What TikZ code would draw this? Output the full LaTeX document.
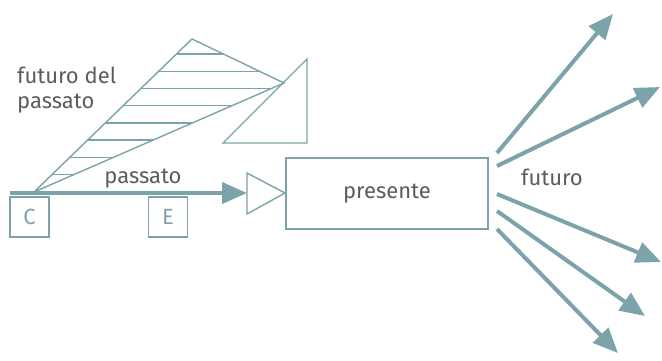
\documentclass[tikz,border=0pt]{standalone}
\usepackage{fontspec}
\setmainfont{Fira Sans}
\usetikzlibrary{arrows.meta}

\definecolor{tealline}{HTML}{7BA3A9}
\definecolor{textgrey}{HTML}{5C5C5C}

\tikzset{
    thin line/.style={draw=tealline, line width=1.4pt},
    letterbox/.style={thin line, minimum width=39pt, minimum height=40pt, inner sep=0pt, text=tealline},
    thick arrow/.style={draw=tealline, line width=4pt, -{Triangle[length=25pt, width=21pt]}}
}

\begin{document}
\begin{tikzpicture}[x=1pt, y=-1pt, font=\fontsize{22}{25}\selectfont, text=textgrey]
    \useasboundingbox (0,0) rectangle (662,360);

    % Future of the past
    \coordinate (apex) at (34,192);
    \coordinate (top) at (192,39);
    \coordinate (tip) at (284,83);
    \begin{scope}
        \clip (apex) -- (top) -- (tip) -- cycle;
        \foreach \k in {0,...,7}
            \draw[thin line] (0,54+17.2*\k) -- (320,54+17.2*\k);
    \end{scope}
    \draw[thin line, line join=miter] (apex) -- (top) -- (tip) -- cycle;
    \draw[thin line, line join=miter] (223,143) -- (307,59) -- (307,143) -- cycle;
    \node[anchor=west, align=left, inner sep=0pt] (fdp) at (17,90) {futuro del\\passato};

    % Past
    \node[letterbox] (c) at (29.5,217) {C};
    \node[letterbox] (e) at (168,217) {E};
    \coordinate (start) at (10,193);
    \coordinate (gate) at (247,193);
    \draw[thick arrow] (start) -- (gate);
    \node[anchor=base] (pas) at (143,183) {passato};
    \draw[thin line, line join=miter] (gate) -- (247,173) -- (285,193) -- (247,214) -- cycle;

    % Present
    \node[thin line, minimum width=202pt, minimum height=71pt] (pres) at (387,193.5) {presente};

    % Future
    \node[anchor=base] (fut) at (552,185) {futuro};
    \foreach \i/\sy/\ex/\ey in {1/153/613/14, 2/166/660/87, 3/194/661/262, 4/211/645/316, 5/229/618/353} {
        \coordinate (s\i) at (497,\sy);
        \coordinate (t\i) at (\ex,\ey);
        \draw[thick arrow] (s\i) -- (t\i);
    }
\end{tikzpicture}
\end{document}
